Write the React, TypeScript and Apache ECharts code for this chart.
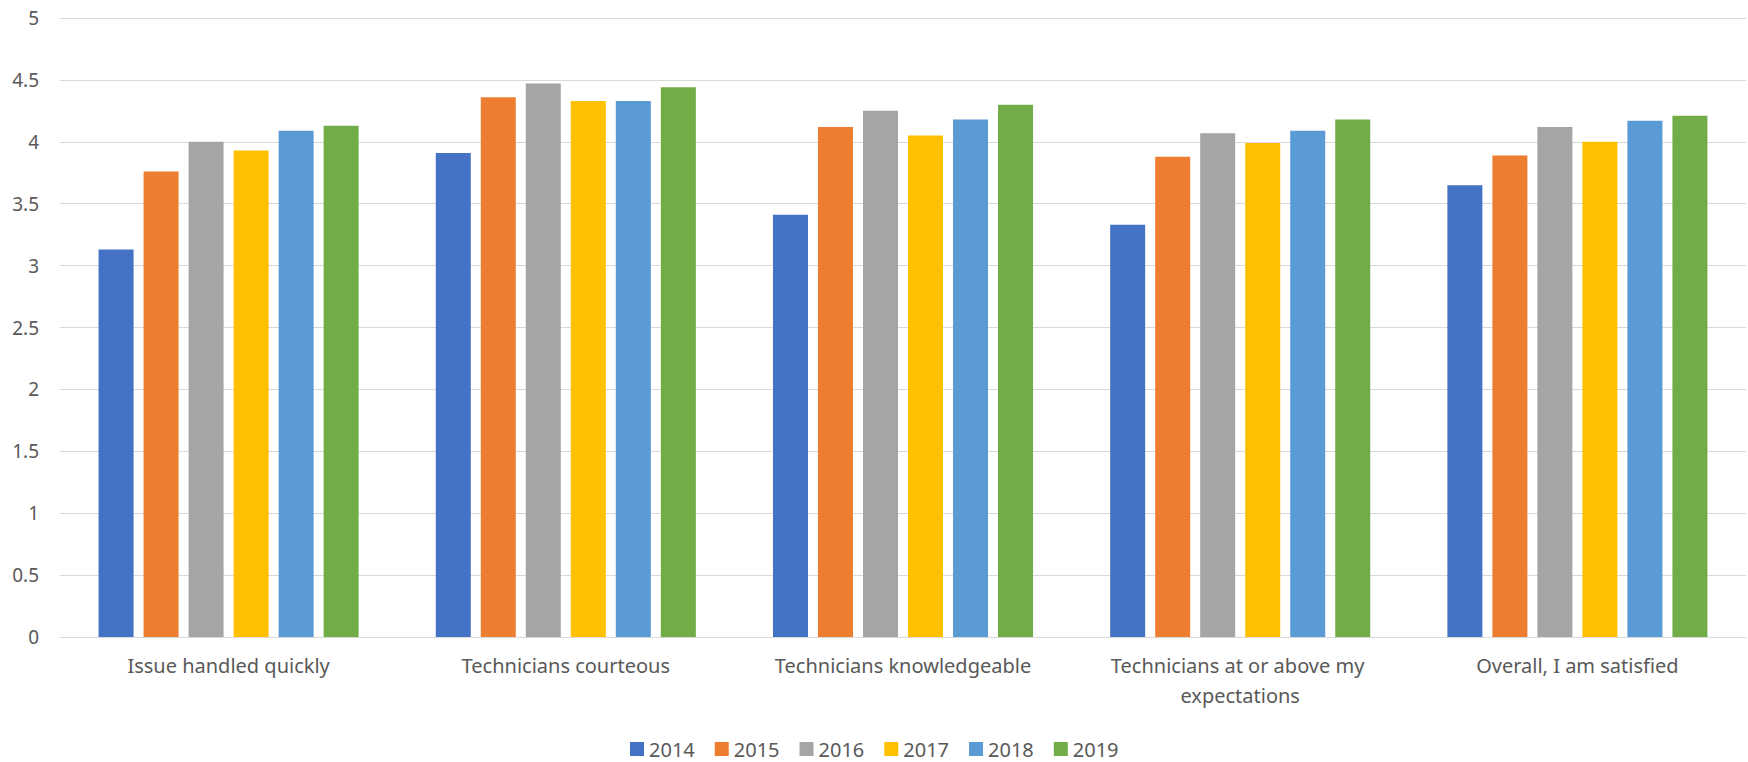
import React, { useEffect, useRef } from "react";
import * as echarts from "echarts";

const categories = [
  "Issue handled quickly",
  "Technicians courteous",
  "Technicians knowledgeable",
  "Technicians at or above my expectations",
  "Overall, I am satisfied",
];
const years = ["2014", "2015", "2016", "2017", "2018", "2019"];
const v2014 = [3.13, 3.91, 3.41, 3.33, 3.65];
const v2015 = [3.76, 4.36, 4.12, 3.88, 3.89];
const v2016 = [4.0, 4.47, 4.25, 4.07, 4.12];
const v2017 = [3.93, 4.33, 4.05, 3.99, 4.0];
const v2018 = [4.09, 4.33, 4.18, 4.09, 4.17];
const v2019 = [4.13, 4.44, 4.3, 4.18, 4.21];
const colors = ["#4472C4", "#ED7D31", "#A5A5A5", "#FFC000", "#5B9BD5", "#70AD47"];

export default function App() {
  const ref = useRef<HTMLDivElement>(null);
  useEffect(() => {
    const chart = echarts.init(ref.current!, null, { renderer: "svg" });
    const all = [v2014, v2015, v2016, v2017, v2018, v2019];
    const font = "'Noto Sans', sans-serif";
    chart.setOption({
      animation: false,
      color: colors,
      textStyle: { fontFamily: font },
      grid: { left: 60, right: 2, top: 18, bottom: 125 },
      legend: {
        data: years,
        top: 738,
        left: 630,
        padding: 0,
        icon: "rect",
        itemWidth: 14,
        itemHeight: 14,
        itemGap: 20,
        textStyle: { color: "#595959", fontSize: 20, lineHeight: 22, fontFamily: font },
      },
      xAxis: {
        type: "category",
        data: categories,
        axisLine: { lineStyle: { color: "#d9d9d9" } },
        axisTick: { show: false },
        axisLabel: {
          color: "#595959",
          fontSize: 20,
          fontFamily: font,
          margin: 13,
          lineHeight: 30,
          width: 300,
          overflow: "break",
          interval: 0,
        },
      },
      yAxis: {
        type: "value",
        min: 0,
        max: 5,
        interval: 0.5,
        axisLine: { show: false },
        axisTick: { show: false },
        splitLine: { lineStyle: { color: "#d9d9d9" } },
        axisLabel: { color: "#595959", fontSize: 19, fontFamily: font, margin: 21 },
      },
      series: years.map((y, i) => ({
        name: y,
        type: "bar",
        data: all[i],
        barWidth: 35,
        barGap: "28.6%",
      })),
    });
    return () => chart.dispose();
  }, []);
  return (
    <div
      ref={ref}
      style={{ position: "fixed", left: 0, top: 0, width: 1748, height: 762, background: "#fff" }}
    />
  );
}
